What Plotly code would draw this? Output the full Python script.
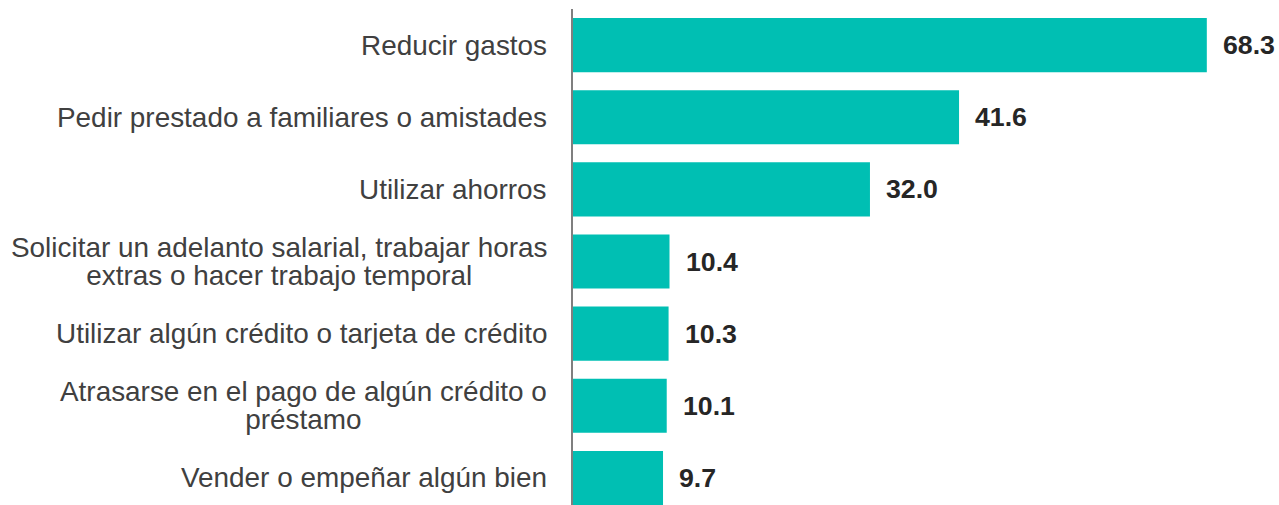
import plotly.graph_objects as go

categories = [
    "Reducir gastos",
    "Pedir prestado a familiares o amistades",
    "Utilizar ahorros",
    "Solicitar un adelanto salarial, trabajar horas\nextras o hacer trabajo temporal",
    "Utilizar algún crédito o tarjeta de crédito",
    "Atrasarse en el pago de algún crédito o\npréstamo",
    "Vender o empeñar algún bien",
]
values = [68.3, 41.6, 32.0, 10.4, 10.3, 10.1, 9.7]
value_labels = ["68.3", "41.6", "32.0", "10.4", "10.3", "10.1", "9.7"]

keys = [c.replace("\n", " ") for c in categories]

fig = go.Figure(
    go.Bar(
        x=values,
        y=keys,
        orientation="h",
        marker=dict(color="#00BFB3", line=dict(width=0)),
        hoverinfo="skip",
    )
)

annotations = []
for cat, key, v, lab in zip(categories, keys, values, value_labels):
    lines = cat.split("\n")
    text = "<br>".join('<span style="font-size:27.9px">' + ln + "</span>" for ln in lines)
    annotations.append(
        dict(
            x=0, y=key, xref="x", yref="y", text=text, showarrow=False,
            xanchor="right", yanchor="middle", xshift=-24, yshift=0,
            align="center",
            font=dict(family="Liberation Sans, Arial, sans-serif", size=21.5, color="#404040"),
        )
    )
    annotations.append(
        dict(
            x=v, y=key, xref="x", yref="y", text="<b>" + lab + "</b>", showarrow=False,
            xanchor="left", yanchor="middle", xshift=14, yshift=0,
            font=dict(family="Liberation Sans, Arial, sans-serif", size=26.7, color="#262626"),
        )
    )

fig.update_layout(
    width=1279,
    height=505,
    margin=dict(l=573, r=10, t=9, b=0, pad=0),
    plot_bgcolor="white",
    paper_bgcolor="white",
    bargap=0.25,
    showlegend=False,
    xaxis=dict(range=[0, 75], visible=False, fixedrange=True),
    yaxis=dict(
        categoryorder="array", categoryarray=keys,
        range=[6.375, -0.5],
        showticklabels=False, showgrid=False, zeroline=False,
        showline=True, linecolor="#7f7f7f", linewidth=1.5, ticks="",
        fixedrange=True,
    ),
    annotations=annotations,
)

fig.write_html(
    "out.html",
    config={"displayModeBar": False},
    post_script="document.body.style.margin='0';document.body.style.overflow='hidden';",
)
